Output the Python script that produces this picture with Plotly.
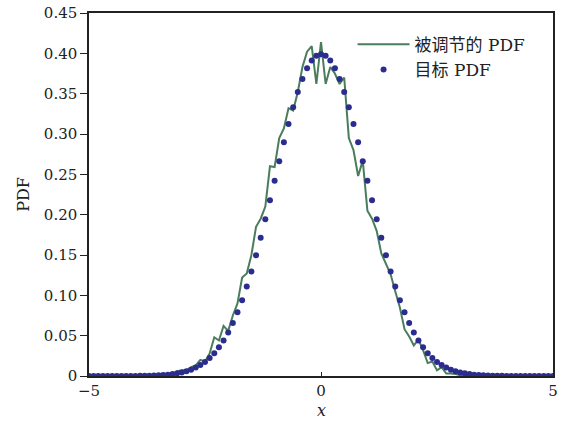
import plotly.graph_objects as go

# x grid (step 0.1 from -5 to 5)
x_vals = [round(-5 + 0.1 * i, 1) for i in range(101)]

# target PDF (dots), read at each grid point from -5 to 5
target_pdf = [
    0.0000, 0.0000, 0.0000, 0.0000, 0.0000, 0.0000, 0.0000, 0.0000, 0.0001, 0.0001,
    0.0001, 0.0002, 0.0003, 0.0004, 0.0006, 0.0009, 0.0012, 0.0017, 0.0024, 0.0033,
    0.0044, 0.0060, 0.0079, 0.0104, 0.0136, 0.0175, 0.0224, 0.0283, 0.0355, 0.0440,
    0.0540, 0.0656, 0.0790, 0.0940, 0.1109, 0.1295, 0.1497, 0.1714, 0.1942, 0.2179,
    0.2420, 0.2661, 0.2897, 0.3123, 0.3332, 0.3521, 0.3683, 0.3814, 0.3910, 0.3970,
    0.3989,
    0.3970, 0.3910, 0.3814, 0.3683, 0.3521, 0.3332, 0.3123, 0.2897, 0.2661, 0.2420,
    0.2179, 0.1942, 0.1714, 0.1497, 0.1295, 0.1109, 0.0940, 0.0790, 0.0656, 0.0540,
    0.0440, 0.0355, 0.0283, 0.0224, 0.0175, 0.0136, 0.0104, 0.0079, 0.0060, 0.0044,
    0.0033, 0.0024, 0.0017, 0.0012, 0.0009, 0.0006, 0.0004, 0.0003, 0.0002, 0.0001,
    0.0001, 0.0001, 0.0000, 0.0000, 0.0000, 0.0000, 0.0000, 0.0000, 0.0000, 0.0000,
]

# tuned PDF (green line), read at each grid point from -5 to 5
tuned_pdf = [
    0.0000, 0.0000, 0.0000, 0.0000, 0.0000, 0.0000, 0.0000, 0.0000, 0.0000, 0.0000,
    0.0000, 0.0000, 0.0000, 0.0000, 0.0010, 0.0010, 0.0020, 0.0020, 0.0020, 0.0060,
    0.0070, 0.0070, 0.0110, 0.0130, 0.0200, 0.0180, 0.0280, 0.0480, 0.0440, 0.0620,
    0.0560, 0.0750, 0.0900, 0.1220, 0.1270, 0.1500, 0.1850, 0.1950, 0.2100, 0.2600,
    0.2590, 0.2950, 0.3070, 0.3320, 0.3290, 0.3520, 0.3830, 0.4020, 0.4090, 0.3620,
    0.4140,
    0.3620, 0.3830, 0.3750, 0.3620, 0.3700, 0.2950, 0.2800, 0.2480, 0.2670, 0.2050,
    0.1950, 0.1800, 0.1520, 0.1400, 0.1260, 0.1050, 0.0850, 0.0580, 0.0490, 0.0380,
    0.0450, 0.0320, 0.0160, 0.0180, 0.0070, 0.0110, 0.0030, 0.0030, 0.0025, 0.0010,
    0.0005, 0.0000, 0.0000, 0.0000, 0.0000, 0.0000, 0.0000, 0.0000, 0.0000, 0.0000,
    0.0000, 0.0000, 0.0000, 0.0000, 0.0000, 0.0000, 0.0000, 0.0000, 0.0000, 0.0000,
]

y_tick_vals = [0, 0.05, 0.10, 0.15, 0.20, 0.25, 0.30, 0.35, 0.40, 0.45]
y_tick_text = ["0", "0.05", "0.10", "0.15", "0.20", "0.25", "0.30", "0.35", "0.40", "0.45"]
x_tick_vals = [-5, 0, 5]
x_tick_text = ["\u22125", "0", "5"]

font_family = "DejaVu Serif, Liberation Serif, Noto Sans CJK SC, serif"
ink = "#222222"

fig = go.Figure()
fig.add_trace(go.Scatter(
    x=x_vals, y=tuned_pdf, mode="lines", name="被调节的 PDF",
    line=dict(color="#4a7d5c", width=2),
))
fig.add_trace(go.Scatter(
    x=x_vals, y=target_pdf, mode="markers", name="目标 PDF",
    marker=dict(color="#2b2d8e", size=6),
))

fig.update_layout(
    width=563, height=425,
    margin=dict(l=89, r=10, t=13, b=49, autoexpand=False),
    paper_bgcolor="white", plot_bgcolor="white",
    font=dict(family=font_family, size=15, color=ink),
    showlegend=True,
    legend=dict(
        x=0.568, y=0.962, xanchor="left", yanchor="top",
        bgcolor="rgba(0,0,0,0)", borderwidth=0,
        font=dict(family=font_family, size=17, color=ink),
        tracegroupgap=0, itemwidth=52,
    ),
    xaxis=dict(
        range=[-5, 5], tickvals=x_tick_vals, ticktext=x_tick_text,
        ticks="inside", ticklen=4, tickcolor=ink,
        showline=True, linecolor=ink, linewidth=1.5, mirror=True,
        showgrid=False, zeroline=False, automargin=False,
        tickfont=dict(size=15),
    ),
    yaxis=dict(
        range=[0, 0.45], tickvals=y_tick_vals, ticktext=y_tick_text,
        ticks="outside", ticklen=7, tickcolor=ink,
        showline=True, linecolor=ink, linewidth=1.5, mirror=True,
        showgrid=False, zeroline=False, automargin=False,
        title=dict(text="PDF", standoff=10, font=dict(size=16)),
        tickfont=dict(size=15),
    ),
    annotations=[dict(
        text="<i>x</i>", xref="paper", yref="paper", x=0.5, y=-0.062,
        xanchor="center", yanchor="top", showarrow=False,
        font=dict(family=font_family, size=16, color=ink),
    )],
)

fig.write_html(
    "out.html",
    config={"displayModeBar": False},
    post_script="document.body.style.margin='0';document.body.style.overflow='hidden';",
)
